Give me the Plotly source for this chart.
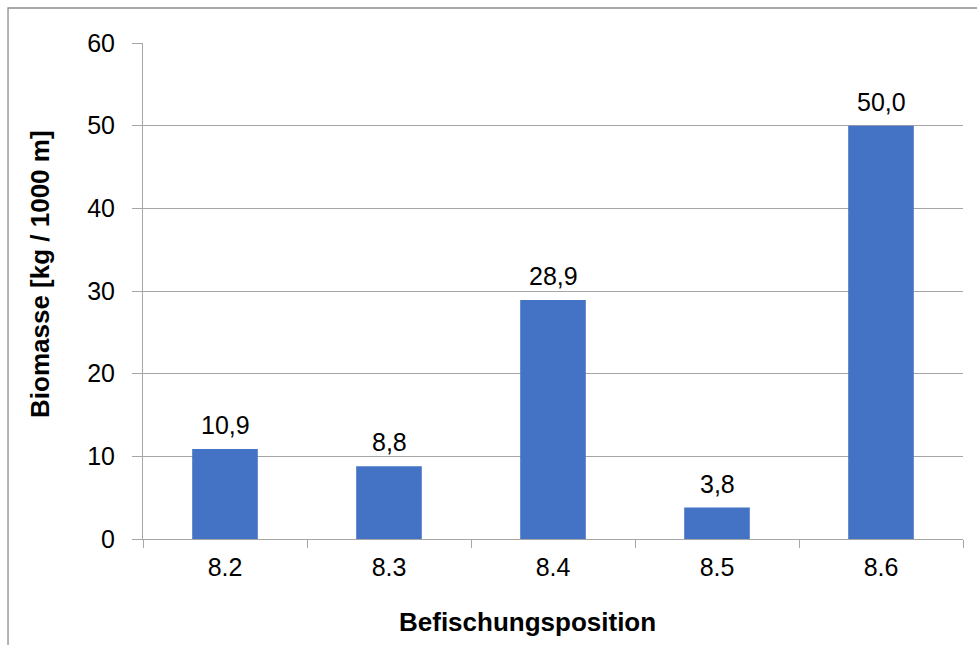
import plotly.graph_objects as go

# Fish biomass per sampling position
positions = ["8.2", "8.3", "8.4", "8.5", "8.6"]
biomass = [10.9, 8.8, 28.9, 3.8, 50.0]

y_title = "Biomasse [kg / 1000 m]"
x_title = "Befischungsposition"

BAR_COLOR = "#4472C4"
LINE_COLOR = "#a6a6a6"
FONT = "Liberation Sans, Arial, sans-serif"

fig = go.Figure(
    go.Bar(
        x=positions,
        y=biomass,
        marker=dict(color=BAR_COLOR, line=dict(width=0)),
        width=0.4,
        hoverinfo="x+y",
    )
)

# value labels above each bar, German decimal comma
for i, v in enumerate(biomass):
    fig.add_annotation(
        x=i, y=v, xref="x", yref="y",
        text=f"{v:.1f}".replace(".", ","),
        showarrow=False, yanchor="bottom", yshift=8,
        font=dict(family=FONT, size=25, color="#000000"),
    )

# axis titles
fig.add_annotation(
    x=-0.1256, y=0.5343, xref="paper", yref="paper",
    text=f"<b>{y_title}</b>", textangle=-90, showarrow=False,
    xanchor="center", yanchor="middle",
    font=dict(family=FONT, size=26, color="#000000"),
)
fig.add_annotation(
    x=0.4695, y=-0.1673, xref="paper", yref="paper",
    text=f"<b>{x_title}</b>", showarrow=False,
    xanchor="center", yanchor="middle",
    font=dict(family=FONT, size=26, color="#000000"),
)

# chart frame
fig.add_shape(
    type="rect", xref="paper", yref="paper",
    x0=-0.1646, x1=1.5, y0=-1.0, y1=1.0706,
    line=dict(color="#8c8c8c", width=1.3), fillcolor="rgba(0,0,0,0)",
    layer="below",
)

fig.update_layout(
    width=977, height=645,
    margin=dict(l=143, r=14, t=43, b=106),
    paper_bgcolor="white", plot_bgcolor="white",
    showlegend=False,
    font=dict(family=FONT, color="#000000"),
)

fig.update_xaxes(
    type="category",
    range=[-0.5, len(positions) - 0.5],
    tickson="boundaries",
    ticks="outside", ticklen=8, tickcolor=LINE_COLOR, tickwidth=1,
    showline=True, linecolor=LINE_COLOR, linewidth=1,
    showgrid=False,
    tickfont=dict(family=FONT, size=25, color="#000000"),
    ticklabelstandoff=6,
)

fig.update_yaxes(
    range=[0, 60], dtick=10,
    ticks="outside", ticklen=10, tickcolor=LINE_COLOR, tickwidth=1,
    showline=True, linecolor=LINE_COLOR, linewidth=1,
    showgrid=True, gridcolor=LINE_COLOR, gridwidth=1,
    zeroline=False,
    tickfont=dict(family=FONT, size=25, color="#000000"),
    ticklabelstandoff=12,
)

fig.write_html("out.html")
